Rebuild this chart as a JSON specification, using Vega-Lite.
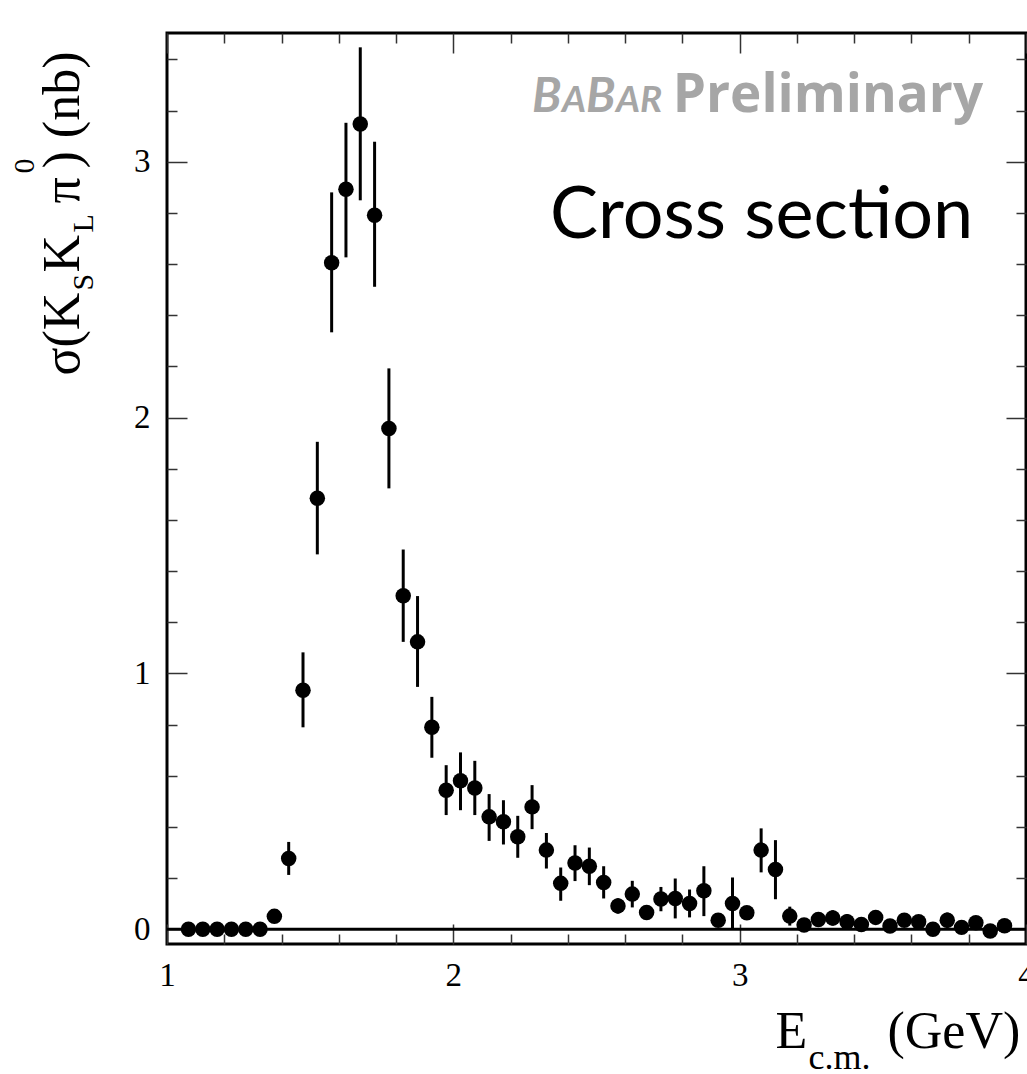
{
  "$schema": "https://vega.github.io/schema/vega-lite/v6.json",
  "width": 859,
  "height": 911,
  "autosize": {"type": "none"},
  "padding": {"left": 167, "top": 33, "right": 1, "bottom": 130},
  "background": "white",
  "config": {
    "view": {"stroke": "black", "strokeWidth": 3},
    "axis": {
      "grid": false, "domain": false,
      "labelFont": "Liberation Serif", "titleFont": "Liberation Serif",
      "labelColor": "black", "titleColor": "black",
      "tickColor": "#333", "tickWidth": 1.5,
      "labelFlush": false, "labelOverlap": false, "labelBound": false,
      "titleFontWeight": "normal", "titleAlign": "left", "titleBaseline": "alphabetic"
    }
  },
  "data": {"values": [
    {"E": 1.075, "sigma": 0, "lo": 0, "hi": 0},
    {"E": 1.125, "sigma": 0, "lo": 0, "hi": 0},
    {"E": 1.175, "sigma": 0, "lo": 0, "hi": 0},
    {"E": 1.225, "sigma": 0, "lo": 0, "hi": 0},
    {"E": 1.275, "sigma": 0, "lo": 0, "hi": 0},
    {"E": 1.325, "sigma": 0, "lo": 0, "hi": 0},
    {"E": 1.375, "sigma": 0.05, "lo": 0.04, "hi": 0.06},
    {"E": 1.425, "sigma": 0.276, "lo": 0.212, "hi": 0.341},
    {"E": 1.475, "sigma": 0.934, "lo": 0.789, "hi": 1.082},
    {"E": 1.525, "sigma": 1.684, "lo": 1.465, "hi": 1.905},
    {"E": 1.575, "sigma": 2.605, "lo": 2.333, "hi": 2.88},
    {"E": 1.625, "sigma": 2.892, "lo": 2.626, "hi": 3.152},
    {"E": 1.675, "sigma": 3.147, "lo": 2.849, "hi": 3.447},
    {"E": 1.725, "sigma": 2.791, "lo": 2.511, "hi": 3.078},
    {"E": 1.775, "sigma": 1.957, "lo": 1.723, "hi": 2.192},
    {"E": 1.825, "sigma": 1.303, "lo": 1.123, "hi": 1.484},
    {"E": 1.875, "sigma": 1.123, "lo": 0.947, "hi": 1.302},
    {"E": 1.925, "sigma": 0.789, "lo": 0.67, "hi": 0.908},
    {"E": 1.975, "sigma": 0.543, "lo": 0.446, "hi": 0.641},
    {"E": 2.025, "sigma": 0.58, "lo": 0.465, "hi": 0.691},
    {"E": 2.075, "sigma": 0.552, "lo": 0.446, "hi": 0.658},
    {"E": 2.125, "sigma": 0.439, "lo": 0.345, "hi": 0.528},
    {"E": 2.175, "sigma": 0.42, "lo": 0.331, "hi": 0.504},
    {"E": 2.225, "sigma": 0.361, "lo": 0.279, "hi": 0.443},
    {"E": 2.275, "sigma": 0.478, "lo": 0.391, "hi": 0.563},
    {"E": 2.325, "sigma": 0.309, "lo": 0.237, "hi": 0.376},
    {"E": 2.375, "sigma": 0.179, "lo": 0.111, "hi": 0.241},
    {"E": 2.425, "sigma": 0.259, "lo": 0.188, "hi": 0.328},
    {"E": 2.475, "sigma": 0.246, "lo": 0.172, "hi": 0.319},
    {"E": 2.525, "sigma": 0.182, "lo": 0.12, "hi": 0.246},
    {"E": 2.575, "sigma": 0.091, "lo": 0.061, "hi": 0.121},
    {"E": 2.625, "sigma": 0.137, "lo": 0.085, "hi": 0.189},
    {"E": 2.675, "sigma": 0.065, "lo": 0.045, "hi": 0.085},
    {"E": 2.725, "sigma": 0.118, "lo": 0.07, "hi": 0.165},
    {"E": 2.775, "sigma": 0.12, "lo": 0.042, "hi": 0.198},
    {"E": 2.825, "sigma": 0.1, "lo": 0.046, "hi": 0.155},
    {"E": 2.875, "sigma": 0.15, "lo": 0.051, "hi": 0.246},
    {"E": 2.925, "sigma": 0.035, "lo": 0.015, "hi": 0.055},
    {"E": 2.975, "sigma": 0.1, "lo": 0.003, "hi": 0.202},
    {"E": 3.025, "sigma": 0.064, "lo": 0.044, "hi": 0.084},
    {"E": 3.075, "sigma": 0.309, "lo": 0.222, "hi": 0.394},
    {"E": 3.125, "sigma": 0.233, "lo": 0.117, "hi": 0.348},
    {"E": 3.175, "sigma": 0.051, "lo": 0.014, "hi": 0.088},
    {"E": 3.225, "sigma": 0.016, "lo": 0.0, "hi": 0.032},
    {"E": 3.275, "sigma": 0.038, "lo": 0.015, "hi": 0.061},
    {"E": 3.325, "sigma": 0.044, "lo": 0.014, "hi": 0.074},
    {"E": 3.375, "sigma": 0.029, "lo": 0.0, "hi": 0.059},
    {"E": 3.425, "sigma": 0.018, "lo": 0.0, "hi": 0.036},
    {"E": 3.475, "sigma": 0.046, "lo": 0.021, "hi": 0.071},
    {"E": 3.525, "sigma": 0.012, "lo": 0.0, "hi": 0.024},
    {"E": 3.575, "sigma": 0.035, "lo": 0.015, "hi": 0.055},
    {"E": 3.625, "sigma": 0.029, "lo": 0.01, "hi": 0.048},
    {"E": 3.675, "sigma": 0.0, "lo": -0.01, "hi": 0.01},
    {"E": 3.725, "sigma": 0.035, "lo": 0.005, "hi": 0.065},
    {"E": 3.775, "sigma": 0.007, "lo": -0.01, "hi": 0.024},
    {"E": 3.825, "sigma": 0.025, "lo": 0.005, "hi": 0.045},
    {"E": 3.875, "sigma": -0.007, "lo": -0.02, "hi": 0.006},
    {"E": 3.925, "sigma": 0.013, "lo": 0.0, "hi": 0.026}
  ]},
  "resolve": {"axis": {"x": "independent", "y": "independent"}},
  "layer": [
    {
      "mark": {"type": "rule", "color": "black", "strokeWidth": 3},
      "encoding": {
        "x": {"field": "E", "type": "quantitative", "scale": {"domain": [1, 4], "nice": false, "zero": false},
          "axis": {"orient": "bottom", "values": [1.2, 1.4, 1.6, 1.8, 2.2, 2.4, 2.6, 2.8, 3.2, 3.4, 3.6, 3.8], "tickSize": -10, "labels": false,
            "title": "c.m.", "titleFontSize": 36, "titleX": 641, "titleY": 124}},
        "y": {"field": "lo", "type": "quantitative", "scale": {"domain": [-0.058, 3.503], "nice": false, "zero": false},
          "axis": {"orient": "left", "values": [0.2, 0.4, 0.6, 0.8, 1.2, 1.4, 1.6, 1.8, 2.2, 2.4, 2.6, 2.8, 3.2, 3.4], "tickSize": -10, "labels": false,
            "title": "S", "titleFontSize": 30, "titleAngle": -90, "titleX": -75, "titleY": 257}},
        "y2": {"field": "hi"}
      }
    },
    {
      "mark": {"type": "point", "filled": true, "color": "black", "size": 240, "opacity": 1},
      "encoding": {
        "x": {"field": "E", "type": "quantitative",
          "axis": {"orient": "bottom", "values": [1, 2, 3, 4], "tickSize": -20, "labelPadding": 35, "labelFontSize": 33,
            "title": "E", "titleFontSize": 52, "titleX": 608, "titleY": 103}},
        "y": {"field": "sigma", "type": "quantitative",
          "axis": {"orient": "left", "values": [0, 1, 2, 3], "tickSize": -20, "labelPadding": 37, "labelFontSize": 33,
            "title": "σ(K", "titleFontSize": 52, "titleAngle": -90, "titleX": -89, "titleY": 342}}
      }
    },
    {
      "data": {"values": [{}]},
      "mark": {"type": "rule", "color": "black", "strokeWidth": 3},
      "encoding": {
        "y": {"datum": 0, "type": "quantitative",
          "axis": {"orient": "right", "values": [0, 1, 2, 3], "tickSize": -20, "labels": false,
            "title": "K", "titleFontSize": 52, "titleAngle": -90, "titleX": -948, "titleY": 239}}
      }
    },
    {
      "data": {"values": [{}]},
      "mark": {"type": "text", "text": "Cross section", "font": "Lato", "fontSize": 72, "align": "left", "baseline": "alphabetic", "color": "black"},
      "encoding": {
        "x": {"datum": 2.338, "type": "quantitative",
          "axis": {"orient": "top", "values": [1, 2, 3, 4], "tickSize": -20, "labels": false,
            "title": "(GeV)", "titleFontSize": 52, "titleX": 720, "titleY": 1014}},
        "y": {"datum": 2.702, "type": "quantitative",
          "axis": {"orient": "right", "values": [0.2, 0.4, 0.6, 0.8, 1.2, 1.4, 1.6, 1.8, 2.2, 2.4, 2.6, 2.8, 3.2, 3.4], "tickSize": -10, "labels": false,
            "title": "L", "titleFontSize": 30, "titleAngle": -90, "titleX": -934, "titleY": 199}}
      }
    },
    {
      "data": {"values": [{}]},
      "mark": {"type": "text", "text": "Preliminary", "font": "Open Sans", "fontWeight": "bold", "fontSize": 53, "align": "right", "baseline": "alphabetic", "color": "#a6a6a6"},
      "encoding": {
        "x": {"datum": 3.85, "type": "quantitative",
          "axis": {"orient": "top", "values": [1.2, 1.4, 1.6, 1.8, 2.2, 2.4, 2.6, 2.8, 3.2, 3.4, 3.6, 3.8], "tickSize": -10, "labels": false, "title": null}},
        "y": {"datum": 3.194, "type": "quantitative",
          "axis": {"orient": "left", "ticks": false, "labels": false,
            "title": "π", "titleFontSize": 52, "titleAngle": -90, "titleX": -89, "titleY": 170}}
      }
    },
    {
      "data": {"values": [{}]},
      "mark": {"type": "text", "text": "B", "font": "Lato", "fontWeight": "bold", "fontStyle": "italic", "fontSize": 48, "align": "left", "baseline": "alphabetic", "color": "#a6a6a6"},
      "encoding": {
        "x": {"datum": 2.2747, "type": "quantitative", "axis": null},
        "y": {"datum": 3.194, "type": "quantitative",
          "axis": {"orient": "left", "ticks": false, "labels": false,
            "title": "0", "titleFontSize": 30, "titleAngle": -90, "titleX": -134, "titleY": 140}}
      }
    },
    {
      "data": {"values": [{}]},
      "mark": {"type": "text", "text": "A", "font": "Lato", "fontWeight": "bold", "fontStyle": "italic", "fontSize": 37, "align": "left", "baseline": "alphabetic", "color": "#a6a6a6"},
      "encoding": {
        "x": {"datum": 2.3795, "type": "quantitative", "axis": null},
        "y": {"datum": 3.194, "type": "quantitative",
          "axis": {"orient": "left", "ticks": false, "labels": false,
            "title": ")  (nb)", "titleFontSize": 52, "titleAngle": -90, "titleX": -89, "titleY": 135}}
      }
    },
    {
      "data": {"values": [{}]},
      "mark": {"type": "text", "text": "B", "font": "Lato", "fontWeight": "bold", "fontStyle": "italic", "fontSize": 48, "align": "left", "baseline": "alphabetic", "color": "#a6a6a6"},
      "encoding": {
        "x": {"datum": 2.4633, "type": "quantitative", "axis": null},
        "y": {"datum": 3.194, "type": "quantitative", "axis": null}
      }
    },
    {
      "data": {"values": [{}]},
      "mark": {"type": "text", "text": "AR", "font": "Lato", "fontWeight": "bold", "fontStyle": "italic", "fontSize": 37, "align": "left", "baseline": "alphabetic", "color": "#a6a6a6"},
      "encoding": {
        "x": {"datum": 2.5681, "type": "quantitative", "axis": null},
        "y": {"datum": 3.194, "type": "quantitative", "axis": null}
      }
    }
  ]
}
